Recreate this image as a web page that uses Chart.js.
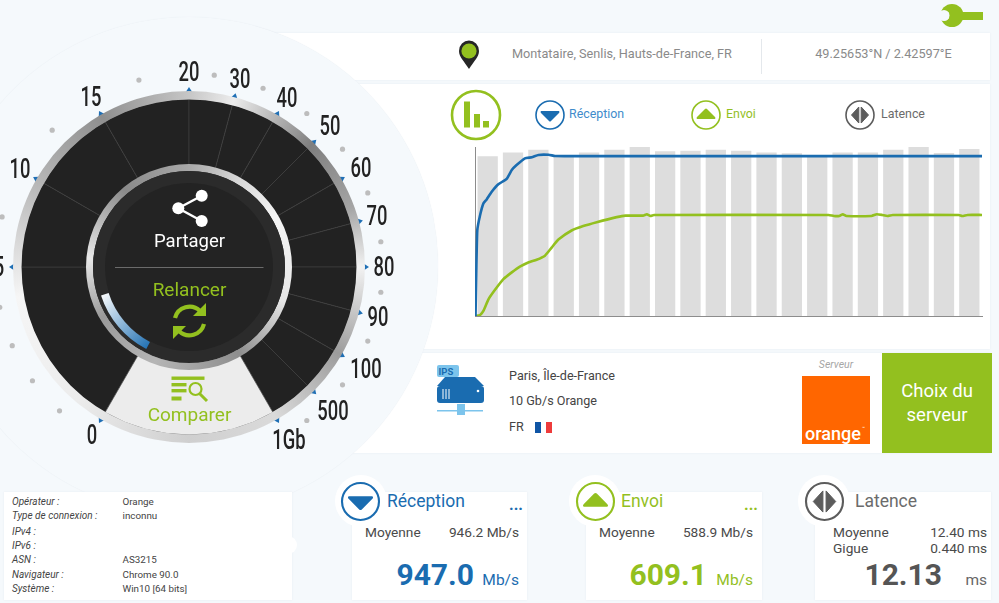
<!DOCTYPE html>
<html><head><meta charset="utf-8">
<script src="https://cdn.jsdelivr.net/npm/chart.js@4"></script>
<style>
html,body{margin:0;padding:0;width:999px;height:603px;overflow:hidden;background:#f5f9fc;font-family:Roboto,sans-serif}
#page{position:absolute;left:0;top:0;width:999px;height:603px;overflow:hidden}
.card{position:absolute;background:#fff;box-shadow:0 0 2px #e6ecf1}
.t{position:absolute;white-space:nowrap;line-height:1}
canvas{position:absolute}
svg{position:absolute;overflow:visible}
</style></head><body><div id="page"></div>
<script>
// ---- speed chart data ----
const sampleLabels=["1","2","3","4","5","6","7","8","9","10","11","12","13","14","15","16","17","18","19","20"];
const latencyMs=[12.13,12.43,12.64,12.13,12.43,12.64,12.84,12.51,12.56,12.64,12.56,12.43,12.36,12.14,12.43,12.43,12.64,12.84,12.38,12.69];
const receptionTime=[0.02,0.05,0.09,0.2,0.33,0.46,0.66,0.92,1.25,1.45,1.64,1.97,2.24,2.5,2.9,3.16,3.75,8,14,20];
const receptionMbps=[0,250,507,596,666,690,735,779,812,864,893,933,939,953,954,947,946,946,946,946];
const envoiTime=[0.02,0.2,0.33,0.53,0.79,1.12,1.45,1.77,2.1,2.43,2.76,3.03,3.29,3.81,4.27,4.8,5.59,5.93,6.63,6.78,6.92,7.06,13.95,14.16,14.37,14.51,14.65,15.64,15.85,16.06,16.27,16.48,19.08,19.22,19.43,20];
const envoiMbps=[0,6,30,99,155,218,258,292,317,333,357,406,452,506,532,555,585,594,594,602,592,598,598,592,592,602,592,592,602,598,592,598,598,592,598,598];
// ---- gauge data ----
const gaugeLabels=["0","5","10","15","20","30","40","50","60","70","80","90","100","500","1Gb"];
const gaugeAngles=[-150,-90,-60,-30,0,15,30,45,60,75,90,105,120,135,150];
const dotAngles=[-138,-126,-114,-102,-75,-45,-15,7.5,22.5,37.5,52.5,67.5,82.5,97.5,112.5,127.5,142.5];
const dialSpans=[60,30,30,30,15,15,15,15,15,15,15,15,15,15,60];
// label distance from the dial centre
const labelOffset=[194.4,190.5,195.8,195.7,195,194.8,194.6,199.5,198,194.7,195,195.6,204,203.6,200];

const page=document.getElementById('page');
const BLUE='#1a6cb0',GREEN='#93c01f',GREY='#5c5c5c';
function card(x,y,w,h,extra){const d=document.createElement('div');d.className='card';d.style.cssText=`left:${x}px;top:${y}px;width:${w}px;height:${h}px;${extra||''}`;page.appendChild(d);return d;}
function txt(s,x,cy,size,color,opt){opt=opt||{};const d=document.createElement('div');d.className='t';d.textContent=s;
 let st=`top:${cy}px;font-size:${size}px;color:${color};`;
 let tx='translateY(-50%)';
 if(opt.align==='right')st+=`right:${999-x}px;`;else if(opt.align==='center'){st+=`left:${x}px;`;tx='translate(-50%,-50%)';}else st+=`left:${x}px;`;
 if(opt.sx)tx+=` scaleX(${opt.sx})`;
 st+=`transform:${tx};`;
 if(opt.bold)st+='font-weight:700;';if(opt.weight)st+=`font-weight:${opt.weight};`;if(opt.italic)st+='font-style:italic;';if(opt.font)st+=`font-family:${opt.font};`;
 d.style.cssText=st;page.appendChild(d);return d;}
function svg(x,y,w,h,inner,z){const d=document.createElement('div');d.innerHTML=`<svg xmlns="http://www.w3.org/2000/svg" width="${w}" height="${h}" viewBox="0 0 ${w} ${h}" style="left:${x}px;top:${y}px;${z?'z-index:'+z:''}">${inner}</svg>`;page.appendChild(d.firstChild);}
function dirIcon(cx,cy,r,color,kind){
 const s=r/14;let shape='';
 if(kind==='down')shape=`<path d="M${-9*s} ${-4*s}H${9*s}Q${10*s} ${-3*s} ${9*s} ${-2*s}L${1*s} ${6*s}Q0 ${7*s} ${-1*s} ${6*s}L${-9*s} ${-2*s}Q${-10*s} ${-3*s} ${-9*s} ${-4*s}Z" fill="${color}"/>`;
 if(kind==='up')shape=`<path d="M${-9*s} ${4*s}H${9*s}Q${10*s} ${3*s} ${9*s} ${2*s}L${1*s} ${-6*s}Q0 ${-7*s} ${-1*s} ${-6*s}L${-9*s} ${2*s}Q${-10*s} ${3*s} ${-9*s} ${4*s}Z" fill="${color}"/>`;
 if(kind==='lat')shape=`<path d="M${-1.2*s} ${-8*s}V${8*s}L${-8.5*s} 0ZM${1.2*s} ${-8*s}V${8*s}L${8.5*s} 0Z" fill="${color}" stroke="${color}" stroke-linejoin="round"/>`;
 svg(cx-r-2,cy-r-2,2*r+4,2*r+4,`<g transform="translate(${r+2} ${r+2})"><circle r="${r}" fill="#fff" stroke="${color}" stroke-width="${1.6*s}"/>${shape}</g>`);
}
// ---- cards ----
card(200,33,790,47);
card(200,84,790,265);
card(200,353,790,100);
// big background disc hiding the cards' left side
const disc=document.createElement('div');disc.style.cssText='position:absolute;left:-60px;top:17px;width:498px;height:498px;border-radius:50%;background:#f5f9fc;box-shadow:0 0 1px #e3e9ee';page.appendChild(disc);
// header
svg(941,4,42,24,`<circle cx="11" cy="11.5" r="11.5" fill="${GREEN}"/><circle cx="3" cy="11.5" r="5.5" fill="#f5f9fc"/><rect x="0" y="8.5" width="8" height="6" fill="#f5f9fc"/><rect x="18" y="8" width="24" height="8" fill="${GREEN}"/>`);
svg(458,40,24,32,`<path d="M11 29 C6 21 1 17 1 11 A10 10.5 0 1 1 21 11 C21 17 16 21 11 29Z" fill="#262626"/><circle cx="11" cy="11" r="7.6" fill="${GREEN}"/>`);
txt('Montataire, Senlis, Hauts-de-France, FR',512,54,12.7,'#8a8a8a');
const dv=document.createElement('div');dv.style.cssText='position:absolute;left:761px;top:39px;width:1px;height:35px;background:#e4e8ec';page.appendChild(dv);
txt('49.25653°N / 2.42597°E',883.5,54,12.7,'#8a8a8a',{align:'center'});
// chart legend
svg(450,89,52,52,`<circle cx="26" cy="26" r="24" fill="#fff" stroke="${GREEN}" stroke-width="2.6"/><rect x="14" y="12.5" width="6" height="26" fill="${GREEN}"/><rect x="24" y="25" width="6" height="13.5" fill="${GREEN}"/><rect x="33" y="32" width="6" height="6.5" fill="${GREEN}"/>`);
dirIcon(549.5,115,14,BLUE,'down');txt('Réception',569,114,12.4,'#3f8ccb');
dirIcon(705.5,115,14,GREEN,'up');txt('Envoi',726,114,12.4,GREEN);
dirIcon(860,115,14,GREY,'lat');txt('Latence',881,114,12.4,'#6b6b6b');
// server card
svg(436,364,50,54,`<rect x="1" y="1" width="22" height="12" rx="2" fill="#7cc4ec"/><text x="2.5" y="10.5" font-size="9.5" font-weight="700" font-family="Roboto" fill="${BLUE}">IPS</text><path d="M9 13H39L48 22H1Z" fill="${BLUE}"/><rect x="1" y="22" width="47" height="17" rx="3" fill="${BLUE}"/><path d="M7 25v10M10 25v10M13 25v10" stroke="#fff" stroke-width="1"/><circle cx="42" cy="27" r="1.3" fill="#fff"/><path d="M1 46.7H47" stroke="#7cc4ec" stroke-width="1.5"/><rect x="21" y="40" width="8" height="11" fill="#7cc4ec"/>`);
txt('Paris, Île-de-France',509,376,12.6,'#444');
txt('10 Gb/s Orange',509,401,12.6,'#444');
txt('FR',509,427,12.6,'#444');
svg(535,422,17,11,`<rect width="6" height="11" fill="#0f55a5"/><rect x="11" width="6" height="11" fill="#ee3b3b"/>`);
txt('Serveur',836,365,10.5,'#a6a6a6',{italic:true,align:'center'});
const lg=document.createElement('div');lg.style.cssText='position:absolute;left:802px;top:376px;width:68px;height:68px;background:#ff6600';page.appendChild(lg);
txt('orange',805,433,19,'#fff',{weight:500,sx:0.95}).style.transformOrigin='left center';
txt('™',862,428,5,'#fff');
const g=document.createElement('div');g.style.cssText=`position:absolute;left:882px;top:353px;width:110px;height:100px;background:${GREEN}`;page.appendChild(g);
txt('Choix du',937,391,18.5,'#fff',{align:'center'});
txt('serveur',937,415,18.5,'#fff',{align:'center'});
// ---- bottom cards ----
card(4,492,288,108);
const bump=document.createElement('div');bump.style.cssText='position:absolute;left:279px;top:536px;width:18px;height:18px;border-radius:50%;background:#fff';page.appendChild(bump);
card(352,492,175,108);card(586,492,176,108);card(815,492,176,108);
[[360.5],[595],[824]].forEach(c=>{const d=document.createElement('div');d.style.cssText=`position:absolute;left:${c[0]-26}px;top:475px;width:52px;height:52px;border-radius:50%;background:#fff`;page.appendChild(d);});
const infoKeys=[['Opérateur :',502],['Type de connexion :',515.5],['IPv4 :',532],['IPv6 :',546],['ASN :',560],['Navigateur :',575],['Système :',588.5]];
infoKeys.forEach(k=>txt(k[0],12,k[1],10,'#444',{italic:true}));
[['Orange',502],['inconnu',515.5],['AS3215',560],['Chrome 90.0',575],['Win10 [64 bits]',588.5]].forEach(k=>txt(k[0],122.5,k[1],9.8,'#444'));
dirIcon(360.5,501,18.5,BLUE,'down');txt('Réception',387,501.5,17.5,BLUE);txt('...',523,505,16,BLUE,{align:'right',bold:true});
txt('Moyenne',365,533,13.7,'#4a4a4a');txt('946.2 Mb/s',519,533,13.7,'#4a4a4a',{align:'right'});
txt('947.0',474,575,30,BLUE,{align:'right',bold:true});txt('Mb/s',519,581,15.5,BLUE,{align:'right'});
dirIcon(595,501,18.5,GREEN,'up');txt('Envoi',621,501.5,17.5,GREEN);txt('...',758,505,16,GREEN,{align:'right',bold:true});
txt('Moyenne',599,533,13.7,'#4a4a4a');txt('588.9 Mb/s',753,533,13.7,'#4a4a4a',{align:'right'});
txt('609.1',707,575,30,GREEN,{align:'right',bold:true});txt('Mb/s',753,581,15.5,GREEN,{align:'right'});
dirIcon(824,501,18.5,GREY,'lat');txt('Latence',855,501.5,17.5,'#6b6b6b');
txt('Moyenne',833,533,13.7,'#4a4a4a');txt('12.40 ms',987,533,13.7,'#4a4a4a',{align:'right'});
txt('Gigue',833,549,13.7,'#4a4a4a');txt('0.440 ms',987,549,13.7,'#4a4a4a',{align:'right'});
txt('12.13',942,575,30,'#555',{align:'right',bold:true});txt('ms',987,581,15.5,'#666',{align:'right'});

// ---- speed chart ----
const c1=document.createElement('canvas');c1.style.cssText='left:465px;top:140px;width:525px;height:185px';c1.width=525;c1.height=185;page.appendChild(c1);
new Chart(c1,{data:{labels:sampleLabels,datasets:[
 {type:'line',label:'Réception',data:receptionTime.map((t,i)=>({x:t,y:receptionMbps[i]})),xAxisID:'xt',yAxisID:'y',borderColor:BLUE,borderWidth:2.6,pointRadius:0,tension:0.15,order:1},
 {type:'line',label:'Envoi',data:envoiTime.map((t,i)=>({x:t,y:envoiMbps[i]})),xAxisID:'xt',yAxisID:'y',borderColor:GREEN,borderWidth:2.6,pointRadius:0,tension:0.15,order:1},
 {type:'bar',label:'Latence',data:latencyMs,xAxisID:'x',yAxisID:'yl',backgroundColor:'#dddddd',grouped:false,barPercentage:0.8,categoryPercentage:1,order:2}
]},options:{responsive:false,animation:false,devicePixelRatio:1,layout:{padding:{left:10,right:8,top:7,bottom:9}},
 plugins:{legend:{display:false},tooltip:{enabled:false}},
 scales:{
  x:{type:'category',offset:true,grid:{display:false,drawTicks:false},ticks:{display:false},border:{color:'#8c8c8c',width:1}},
  xt:{type:'linear',min:0,max:20,display:false},
  y:{type:'linear',min:0,max:1000,grid:{display:false,drawTicks:false},ticks:{display:false},border:{color:'#8c8c8c',width:1}},
  yl:{type:'linear',min:0,max:12.84,display:false}
 }}});

// ---- gauge ----
const CX=189.3,CY=266.7,rad=a=>(a-90)*Math.PI/180;
const S=440;
const c2=document.createElement('canvas');c2.style.cssText=`left:${CX-S/2}px;top:${CY-S/2}px;width:${S}px;height:${S}px`;c2.width=S;c2.height=S;page.appendChild(c2);
function chrome(ctx,x,y,r0,r1,stops){const gr=ctx.createConicGradient(-Math.PI/2,x,y);stops.forEach(s=>gr.addColorStop(s[0]/360,s[1]));ctx.beginPath();ctx.arc(x,y,r1,0,2*Math.PI);ctx.arc(x,y,r0,0,2*Math.PI,true);ctx.fillStyle=gr;ctx.fill();}
const gaugeDecor={id:'gaugeDecor',
 beforeDatasetsDraw(ch){const c=ch.ctx,m=ch.getDatasetMeta(0).data[0],x=m.x,y=m.y;
  c.fillStyle='#1f6fb5';
  gaugeAngles.forEach(a=>{const r=rad(a);c.save();c.translate(x+Math.cos(r)*176,y+Math.sin(r)*176);c.rotate(r);c.beginPath();c.moveTo(4,0);c.lineTo(-1,-3.2);c.lineTo(-1,3.2);c.closePath();c.fill();c.restore();});
  c.fillStyle='#bdbdbd';
  dotAngles.forEach(a=>{const r=rad(a);c.beginPath();c.arc(x+Math.cos(r)*193.5,y+Math.sin(r)*193.5,2.6,0,7);c.fill();});
 },
 afterDatasetsDraw(ch){const c=ch.ctx,m=ch.getDatasetMeta(0).data[0],x=m.x,y=m.y;
  chrome(c,x,y,167.5,176,[[0,'#c6c6c6'],[15,'#ececec'],[45,'#7f7f7f'],[70,'#a5a5a5'],[90,'#f2f2f2'],[120,'#9c9c9c'],[150,'#dadada'],[180,'#cfcfcf'],[220,'#ececec'],[260,'#f6f6f6'],[300,'#b5b5b5'],[330,'#8f8f8f'],[360,'#c6c6c6']]);
  chrome(c,x,y,96,103,[[0,'#a8a8a8'],[30,'#d8d8d8'],[60,'#f5f5f5'],[110,'#e6e6e6'],[150,'#8e8e8e'],[200,'#b5b5b5'],[240,'#9a9a9a'],[275,'#e8e8e8'],[320,'#8a8a8a'],[360,'#a8a8a8']]);
  c.beginPath();c.arc(x,y,96,0,7);c.fillStyle='#2b2b2b';c.fill();
  c.beginPath();c.arc(x,y,84,0,7);c.fillStyle='#232323';c.fill();
  const gr=c.createLinearGradient(x-86,y+24,x-36,y+80);gr.addColorStop(0,'#ffffff');gr.addColorStop(1,BLUE);
  c.beginPath();c.arc(x,y,88.5,rad(-152.5),rad(-108));c.lineWidth=8;c.strokeStyle=gr;c.stroke();
  c.beginPath();c.moveTo(x-74,y+.5);c.lineTo(x+74.5,y+.5);c.lineWidth=1;c.strokeStyle='#6b6b6b';c.stroke();
 }};
new Chart(c2,{type:'doughnut',data:{labels:dialSpans.map((s,i)=>'s'+i),datasets:[{data:dialSpans,
  backgroundColor:dialSpans.map((s,i)=>i===dialSpans.length-1?'#ececec':'#222222'),borderColor:dialSpans.map((s,i)=>'#3d3d3d'),borderWidth:0.7}]},
 options:{responsive:false,animation:false,devicePixelRatio:1,rotation:-150,circumference:360,cutout:100,radius:168,layout:{padding:0},plugins:{legend:{display:false},tooltip:{enabled:false}}},plugins:[gaugeDecor]});
// gauge tick labels
gaugeLabels.forEach((s,i)=>{const a=rad(gaugeAngles[i]),r=labelOffset[i];
 txt(s,CX+Math.cos(a)*r,CY+Math.sin(a)*r,27,'#222',{align:'center',weight:500,sx:0.68});});
// gauge centre content
txt('Partager',189.5,241,18.5,'#fff',{align:'center'});
txt('Relancer',189.5,289,19,GREEN,{align:'center'});
txt('Comparer',189.5,414,19,GREEN,{align:'center'});
svg(170,188,40,42,`<path d="M31.7 7.7L8.3 20.3L31.7 33" stroke="#fff" stroke-width="2.4" fill="none"/><circle cx="31.7" cy="7.7" r="6" fill="#fff"/><circle cx="8.3" cy="20.3" r="6" fill="#fff"/><circle cx="31.7" cy="33" r="6" fill="#fff"/>`);
svg(170,301,40,40,`<g fill="none" stroke="${GREEN}" stroke-width="4.2"><path d="M5 17A15 15 0 0 1 30 10"/><path d="M34 23A15 15 0 0 1 9 30"/></g><path d="M36 2V15H23Z" fill="${GREEN}"/><path d="M3 38V25H16Z" fill="${GREEN}"/>`);
svg(171,376,38,28,`<g fill="${GREEN}"><rect x="0.5" y="0.5" width="33" height="3.4"/><rect x="0.5" y="7" width="15" height="3.4"/><rect x="0.5" y="13" width="15" height="3.4"/><rect x="0.5" y="20.5" width="10" height="4"/></g><circle cx="24.5" cy="13" r="6" fill="none" stroke="${GREEN}" stroke-width="2.2"/><path d="M28.5 17.5L36 25" stroke="${GREEN}" stroke-width="3"/>`);
</script></body></html>
